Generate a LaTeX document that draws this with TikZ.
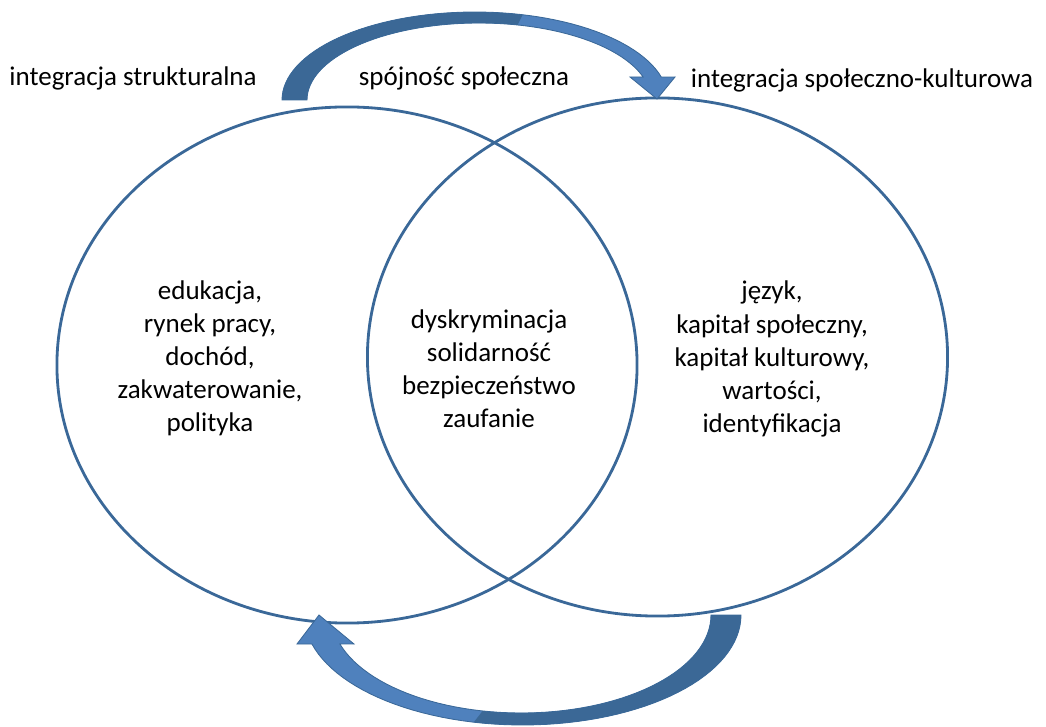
\documentclass[tikz,border=0pt]{standalone}
\usepackage{fontspec}
\setmainfont{Carlito}
\usetikzlibrary{shapes.geometric}
\definecolor{rim}{HTML}{3A6898}
\definecolor{darkarrow}{HTML}{3B6896}
\definecolor{lightarrow}{HTML}{4F81BD}
% outlines of the two curved arrows, in pixel units
\newcommand\toparrow{(282,100) -- plot[domain=180:344.9,samples=60] ({475+193*cos(\x)},{100+88*sin(\x)})
  -- (675,77) -- (657,99) -- (630,77)
  -- plot[domain=342.6:180,samples=60] ({479+172*cos(\x)},{100+77*sin(\x)}) -- cycle}
\newcommand\botarrow{(741,615) -- plot[domain=0:164.7,samples=60] ({522.6+218.4*cos(\x)},{615+110*sin(\x)})
  -- (297,644) -- (319,615) -- (354,644)
  -- plot[domain=162.8:0,samples=60] ({521.2+189.8*cos(\x)},{615+98*sin(\x)}) -- cycle}
\begin{document}
\begin{tikzpicture}[x=0.025cm,y=-0.025cm,
  set/.style={ellipse,draw=rim,line width=2pt,inner sep=0pt,minimum width=14.5cm},
  txt/.style={align=center,font=\fontsize{19.2}{23.5}\selectfont},
  title/.style={font=\fontsize{19.2}{23.5}\selectfont}]
  \useasboundingbox (0,0) rectangle (1046,727);
  \node[set,minimum height=12.9cm] (left) at (347,365) {};
  \node[set,minimum height=12.95cm] (right) at (657.5,357) {};

  \node[txt] (struct) at (210,358) {edukacja,\\rynek pracy,\\dochód,\\zakwaterowanie,\\polityka};
  \node[txt] (common) at (489,369) {dyskryminacja\\solidarność\\bezpieczeństwo\\zaufanie};
  \node[txt] (cult) at (772,359) {język,\\kapitał społeczny,\\kapitał kulturowy,\\wartości,\\identyfikacja};

  \node[title] (tstruct) at (133,78) {integracja strukturalna};
  \node[title] (tcohesion) at (464,78) {spójność społeczna};
  \node[title] (tcult) at (862,80) {integracja społeczno-kulturowa};

  % curved arrows
  \fill[lightarrow] \toparrow;
  \begin{scope}
    \clip (0,0) -- (530,0) -- (470,120) -- (0,120) -- cycle;
    \fill[darkarrow] \toparrow;
  \end{scope}
  \draw[rim,line width=0.6pt] \toparrow;
  \fill[lightarrow] \botarrow;
  \begin{scope}
    \clip (470,727) -- (570,600) -- (760,600) -- (760,727) -- cycle;
    \fill[darkarrow] \botarrow;
  \end{scope}
  \draw[rim,line width=0.6pt] \botarrow;
\end{tikzpicture}
\end{document}
